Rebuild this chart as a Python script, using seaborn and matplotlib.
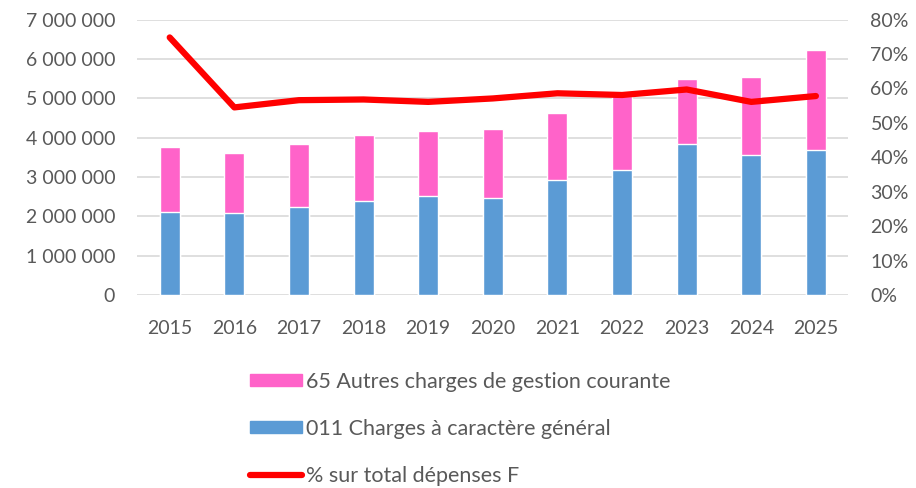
import numpy as np
import pandas as pd
import seaborn as sns
import matplotlib.pyplot as plt
from matplotlib.ticker import FuncFormatter, PercentFormatter
from matplotlib.patches import Patch
from matplotlib.lines import Line2D

# Data
years = ["2015", "2016", "2017", "2018", "2019", "2020", "2021", "2022", "2023", "2024", "2025"]
charges_011 = [2120000, 2080000, 2240000, 2390000, 2520000, 2480000, 2920000, 3190000, 3840000, 3570000, 3700000]
charges_65 = [1650000, 1520000, 1600000, 1670000, 1650000, 1750000, 1710000, 1860000, 1660000, 1980000, 2520000]
pct_total = [0.748, 0.545, 0.566, 0.568, 0.561, 0.571, 0.586, 0.581, 0.597, 0.561, 0.578]

label_65 = "65 Autres charges de gestion courante"
label_011 = "011 Charges à caractère général"
label_pct = "% sur total dépenses F"

pink = "#FF63C9"
blue = "#5B9BD5"
red = "#FF0000"
grey = "#595959"

df = pd.DataFrame({"year": years, "c011": charges_011, "c65": charges_65, "pct": pct_total})
df["total"] = df["c011"] + df["c65"]

sns.set_style("white")
plt.rcParams["font.family"] = ["Lato", "DejaVu Sans"]

fig = plt.figure(figsize=(9.16, 4.88), dpi=100)
ax = fig.add_axes([0.15, 0.395, 0.776, 0.565])

# Stacked bars: total first, then the lower part on top
sns.barplot(data=df, x="year", y="total", color=pink, saturation=1, width=0.31, ax=ax, zorder=2)
sns.barplot(data=df, x="year", y="c011", color=blue, saturation=1, width=0.31, ax=ax, zorder=3)

ax.set_ylim(0, 7000000)
ax.set_xlim(-0.5, len(years) - 0.5)
ax.set_yticks(np.arange(0, 7000001, 1000000))
ax.yaxis.set_major_formatter(FuncFormatter(lambda v, p: f"{int(v):,}".replace(",", " ")))
ax.grid(axis="y", color="#D9D9D9", linewidth=1.2, zorder=0)
ax.set_axisbelow(True)
ax.set_xlabel("")
ax.set_ylabel("")
for s in ax.spines.values():
    s.set_visible(False)
ax.tick_params(axis="both", length=0, labelsize=14, colors=grey)
ax.tick_params(axis="x", pad=18)
ax.tick_params(axis="y", pad=16)

# Percentage line on secondary axis
ax2 = ax.twinx()
sns.lineplot(x=np.arange(len(years)), y=df["pct"], color=red, linewidth=4.5, ax=ax2,
             solid_capstyle="round", solid_joinstyle="round", zorder=4)
ax2.set_ylim(0, 0.8)
ax2.set_yticks(np.arange(0, 0.81, 0.1))
ax2.yaxis.set_major_formatter(PercentFormatter(1.0, decimals=0))
ax2.set_ylabel("")
for s in ax2.spines.values():
    s.set_visible(False)
ax2.tick_params(axis="y", length=0, labelsize=14, colors=grey, pad=16)

handles = [Patch(color=pink), Patch(color=blue), Line2D([0], [0], color=red, linewidth=4.5, solid_capstyle="round")]
leg = fig.legend(handles, [label_65, label_011, label_pct], loc="upper left",
                 bbox_to_anchor=(0.273, 0.238), frameon=False, fontsize=15.5,
                 handlelength=2.4, handleheight=0.5, handletextpad=0.2, labelspacing=1.25,
                 borderaxespad=0, borderpad=0)
for t in leg.get_texts():
    t.set_color(grey)

fig.savefig("out.png", dpi=100)
